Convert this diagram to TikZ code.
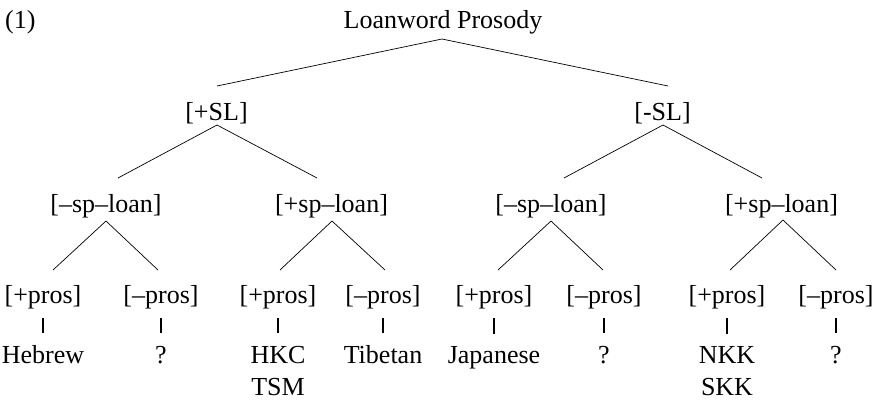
\documentclass[tikz,border=0pt]{standalone}
\usepackage{fontspec}
\setmainfont{Liberation Serif}
\begin{document}
\begin{tikzpicture}[x=1pt,y=-1pt,
  lbl/.style={anchor=base,inner sep=0pt,align=center,font=\fontsize{26}{31.5}\selectfont},
  edge/.style={line width=0.7pt},
  bar/.style={line width=1.8pt,shorten <=9.4pt,shorten >=12.7pt}]
\useasboundingbox (0,0) rectangle (880,400);
% labels
\node[lbl,anchor=base west] (num) at (5,28) {(1)};
\node[lbl] (root) at (443,28) {Loanword Prosody};
\node[lbl] (slp) at (216.5,120) {[+SL]};
\node[lbl] (slm) at (662.5,120) {[-SL]};
\node[lbl] (a) at (106,212) {[–sp–loan]};
\node[lbl] (b) at (331.5,212) {[+sp–loan]};
\node[lbl] (c) at (551,212) {[–sp–loan]};
\node[lbl] (d) at (781.5,212) {[+sp–loan]};
% pros row
\node[lbl] (p1) at (43,303) {[+pros]};
\node[lbl] (p2) at (161,303) {[–pros]};
\node[lbl] (p3) at (278,303) {[+pros]};
\node[lbl] (p4) at (383,303) {[–pros]};
\node[lbl] (p5) at (494,303) {[+pros]};
\node[lbl] (p6) at (604,303) {[–pros]};
\node[lbl] (p7) at (727,303) {[+pros]};
\node[lbl] (p8) at (836,303) {[–pros]};
% leaves (two-line leaves are anchored at their last baseline)
\node[lbl] (l1) at (43,363.5) {Hebrew};
\node[lbl] (l2) at (161,363.5) {?};
\node[lbl] (l3) at (278,395) {HKC\\TSM};
\node[lbl] (l4) at (383,363.5) {Tibetan};
\node[lbl] (l5) at (494,363.5) {Japanese};
\node[lbl] (l6) at (604,363.5) {?};
\node[lbl] (l7) at (727,395) {NKK\\SKK};
\node[lbl] (l8) at (836,363.5) {?};
% branches
\draw[edge] ([shift={(0.5,-34)}]slp.base) -- ([shift={(-1,11)}]root.base) -- ([shift={(5.5,-34)}]slm.base);
\draw[edge] ([shift={(12,-34)}]a.base) -- ([shift={(0.5,5)}]slp.base) -- ([shift={(-14.5,-34)}]b.base);
\draw[edge] ([shift={(13,-34)}]c.base) -- ([shift={(0.5,5)}]slm.base) -- ([shift={(-19.5,-34)}]d.base);
\draw[edge] ([shift={(10,-33)}]p1.base) -- ([shift={(0,9)}]a.base) -- ([shift={(-3,-33)}]p2.base);
\draw[edge] ([shift={(2,-33)}]p3.base) -- ([shift={(0.5,9)}]b.base) -- ([shift={(2,-33)}]p4.base);
\draw[edge] ([shift={(4,-33)}]p5.base) -- ([shift={(0,9)}]c.base) -- ([shift={(-1,-33)}]p6.base);
\draw[edge] ([shift={(3,-33)}]p7.base) -- ([shift={(1.5,8)}]d.base) -- ([shift={(0,-33)}]p8.base);
% unary bars
\foreach \i in {1,...,8} {\draw[bar] (p\i) -- (l\i);}
\end{tikzpicture}
\end{document}
